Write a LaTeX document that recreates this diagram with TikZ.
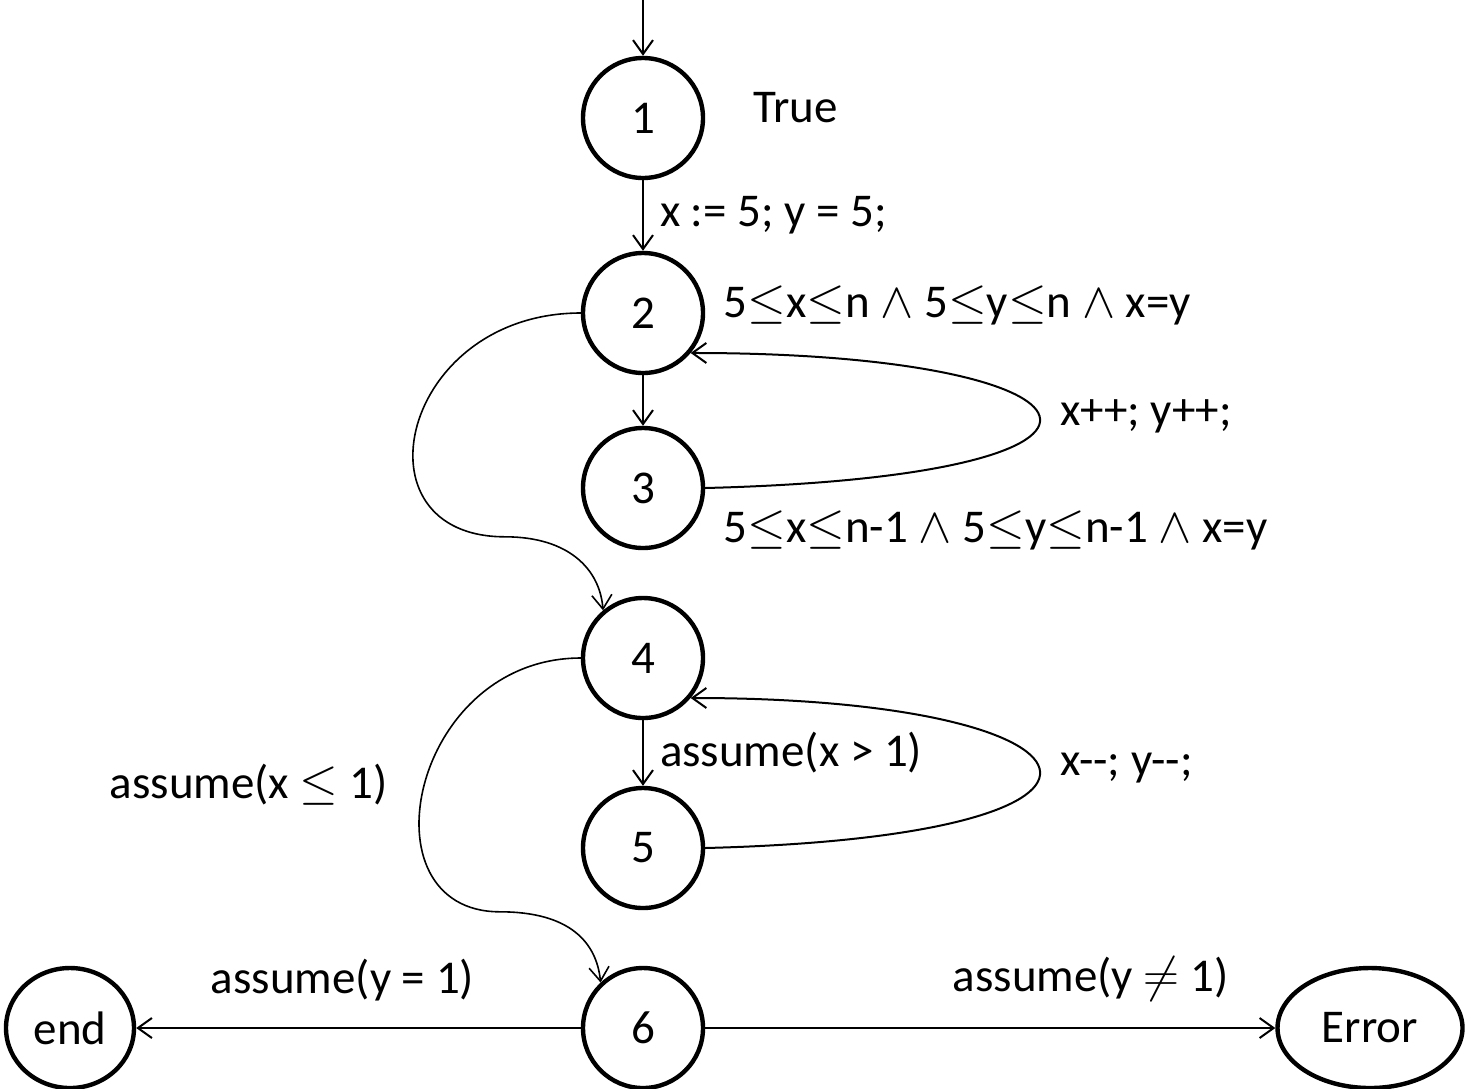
\documentclass[tikz,border=0pt]{standalone}
\usepackage{fontspec}
\setmainfont{Carlito}
\usetikzlibrary{arrows.meta,shapes.geometric,positioning,calc}

\begin{document}
\begin{tikzpicture}
  [>={Straight Barb[length=7pt,width=10pt]},
   every node/.style={font=\fontsize{23.5}{28}\selectfont},
   state/.style={circle, draw, on grid, line width=2.2pt, minimum size=60pt, inner sep=0pt},
   final/.style={ellipse, draw, on grid, line width=2.2pt, minimum height=60pt, inner sep=0pt},
   lbl/.style={inner sep=2pt},
   flow/.style={->, line width=1pt},
   jump/.style={->, line width=0.8pt}]
  \useasboundingbox (0,0) rectangle (738pt,-544pt);
  \node (n1) [state] at (321.5pt,-59pt) {1};
  \node (n2) [state, below=97.5pt of n1] {2};
  \node (n3) [state, below=87.5pt of n2] {3};
  \node (n4) [state, below=85pt of n3] {4};
  \node (n5) [state, below=95pt of n4] {5};
  \node (n6) [state, below=90pt of n5] {6};
  \node (fin) [final, minimum width=64pt, left=286.5pt of n6] {end};
  \node (err) [final, minimum width=92.5pt, right=363.5pt of n6] {Error};
  \coordinate (start) at ([yshift=59pt]n1.center);
  \coordinate (bend24) at ($(n4.north)+(-69pt,29.5pt)$);
  \coordinate (bend46) at ($(n6.north)+(-71.5pt,27pt)$);

  % invariants
  \node (inv1) [lbl, anchor=west] at ([xshift=22pt,yshift=5pt]n1.east) {True};
  \node (inv2) [lbl, anchor=west] at ([xshift=7pt,yshift=4pt]n2.east) {5$\leq$x$\leq$n $\wedge$ 5$\leq$y$\leq$n $\wedge$ x=y};
  \node (inv3) [lbl, anchor=west] at ([xshift=7pt,yshift=-21pt]n3.east) {5$\leq$x$\leq$n-1 $\wedge$ 5$\leq$y$\leq$n-1 $\wedge$ x=y};

  % transitions
  \draw [flow] (start) -- (n1);
  \draw [flow] (n1) -- node (init) [lbl, right=6pt] {x := 5; y = 5;} (n2);
  \draw [flow] (n2) -- (n3);
  \draw [flow] (n3.east) .. controls +(240pt,6pt) and +(215pt,0pt) .. node (inc) [lbl, pos=0.5, right=8pt] {x++; y++;} (n2.-40);
  \draw [jump] (n2.west) .. controls +(-90pt,0pt) and +(-77.5pt,0pt) .. (bend24)
    .. controls +(32.5pt,0pt) and +(-1.5pt,20pt) .. (n4.130);
  \draw [flow] (n4) -- node (gt) [lbl, right=6pt] {assume(x > 1)} (n5);
  \draw [flow] (n5.east) .. controls +(240pt,6pt) and +(215pt,0pt) .. node (dec) [lbl, pos=0.5, right=8pt] {x-{}-; y-{}-;} (n4.-40);
  \draw [jump] (n4.west) .. controls +(-85pt,0pt) and +(-70pt,0pt) .. node (le) [lbl, pos=0.5, left=16pt] {assume(x $\leq$ 1)} (bend46)
    .. controls +(35pt,0pt) and +(-2pt,20pt) .. (n6.133);
  \draw [flow] (n6) -- node (eq) [lbl, pos=0.536, above=11pt] {assume(y = 1)} (fin);
  \draw [flow] (n6) -- node (ne) [lbl, pos=0.676, above=11pt] {assume(y $\neq$ 1)} (err);
\end{tikzpicture}
\end{document}
